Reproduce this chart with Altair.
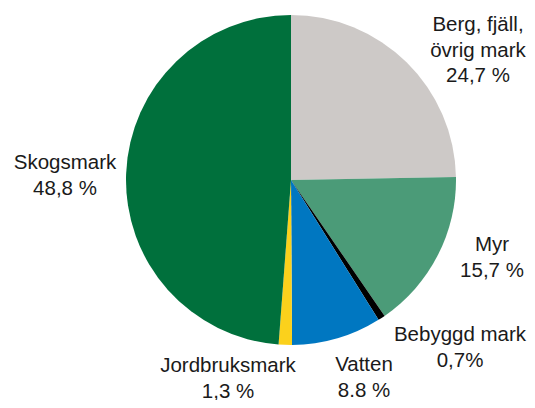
import altair as alt
import pandas as pd

categories = ["Berg, fjäll, övrig mark", "Myr", "Bebyggd mark", "Vatten", "Jordbruksmark", "Skogsmark"]
values = [24.7, 15.7, 0.7, 8.8, 1.3, 48.8]
colors = ["#cdc9c7", "#4b9b78", "#000000", "#0077c1", "#fbd11c", "#00703c"]
label_texts = [
    ["Berg, fjäll,", "övrig mark", "24,7 %"],
    ["Myr", "15,7 %"],
    ["Bebyggd mark", "0,7%"],
    ["Vatten", "8.8 %"],
    ["Jordbruksmark", "1,3 %"],
    ["Skogsmark", "48,8 %"],
]
# label anchor positions (pixels in chart area, first line)
label_x = [470, 484, 452, 356, 220, 57]
label_y = [17, 237, 327, 357, 358, 155]

df = pd.DataFrame({"cat": categories, "val": values, "order": list(range(len(values)))})
lab = pd.DataFrame({"cat": categories, "label": label_texts, "lx": label_x, "ly": label_y})

pie = alt.Chart(df).mark_arc(outerRadius=165, stroke=None).encode(
    theta=alt.Theta("val:Q", stack=True),
    order=alt.Order("order:Q"),
    color=alt.Color("cat:N", scale=alt.Scale(domain=categories, range=colors), legend=None),
    x=alt.value(283),
    y=alt.value(172),
)

labels = alt.Chart(lab).mark_text(
    font="Liberation Sans", fontSize=20.5, lineHeight=25.5, align="center", baseline="middle", color="#1a1a1a"
).encode(
    x=alt.X("lx:Q", scale=None, axis=None),
    y=alt.Y("ly:Q", scale=None, axis=None),
    text="label",
)

chart = alt.layer(pie, labels).properties(
    width=519, height=392, padding=0, autosize=alt.AutoSizeParams(type="none")
).configure_view(stroke=None)

chart.save("out.html", embed_options={"renderer": "svg", "actions": False})
